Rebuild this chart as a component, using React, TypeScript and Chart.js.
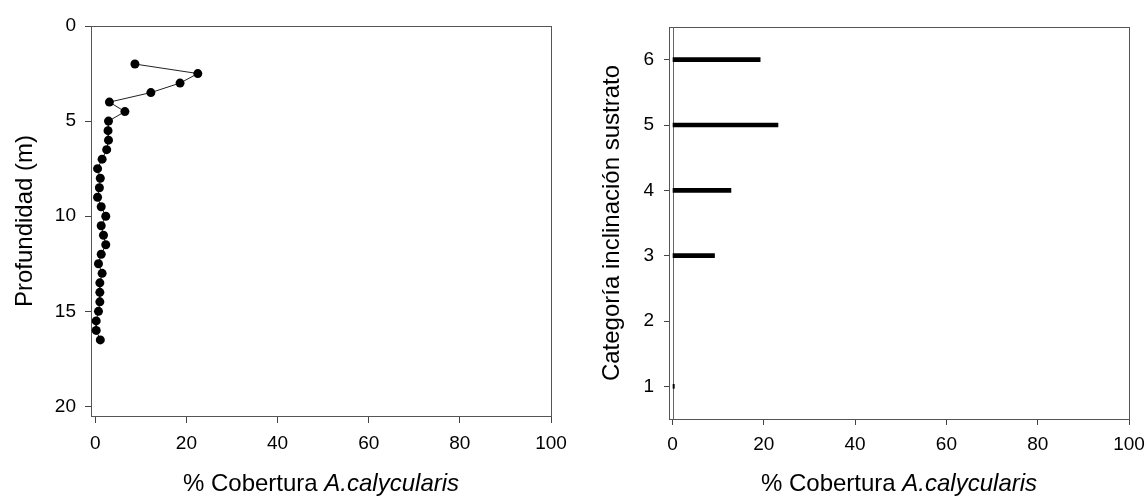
import React, { useEffect, useRef } from 'react';
import { Chart, registerables } from 'chart.js';

Chart.register(...registerables);

const FONT = '"Liberation Sans", Arial, sans-serif';

// Left panel: depth profile
const depths = [2, 2.5, 3, 3.5, 4, 4.5, 5, 5.5, 6, 6.5, 7, 7.5, 8, 8.5, 9, 9.5, 10, 10.5, 11, 11.5, 12, 12.5, 13, 13.5, 14, 14.5, 15, 15.5, 16, 16.5];
const depthCover = [8.7, 22.5, 18.6, 12.2, 3.1, 6.5, 2.9, 2.8, 2.9, 2.5, 1.5, 0.5, 1.1, 0.9, 0.5, 1.3, 2.3, 1.3, 1.8, 2.3, 1.3, 0.7, 1.5, 1.0, 1.0, 1.0, 0.7, 0.2, 0.2, 1.1];
const depthTicks = [0, 5, 10, 15, 20];

// Right panel: slope category
const slopeCategories = [1, 2, 3, 4, 5, 6];
const slopeCover = [0.4, 0, 9.2, 12.8, 23.1, 19.2];
const categoryTicks = [1, 2, 3, 4, 5, 6];

const coverTicks = [0, 20, 40, 60, 80, 100];

const xTitleNormal = '% Cobertura ';
const xTitleItalic = 'A.calycularis';
const leftYTitle = 'Profundidad (m)';
const rightYTitle = 'Categoría inclinación sustrato';

const framePlugin = {
  id: 'frame',
  beforeDatasetsDraw(chart: any, _args: any, opts: any) {
    const { ctx, chartArea: a } = chart;
    ctx.save();
    ctx.strokeStyle = '#555';
    ctx.lineWidth = 1;
    ctx.strokeRect(Math.round(a.left) + 0.5, Math.round(a.top) + 0.5, Math.round(a.right - a.left), Math.round(a.bottom - a.top));
    if (opts.zeroLine) {
      const x = Math.round(chart.scales.x.getPixelForValue(0)) + 0.5;
      ctx.strokeStyle = '#666';
      ctx.beginPath();
      ctx.moveTo(x, a.top);
      ctx.lineTo(x, a.bottom);
      ctx.stroke();
    }
    ctx.restore();
  },
  afterDraw(chart: any, _args: any, opts: any) {
    const { ctx, chartArea: a } = chart;
    ctx.save();
    ctx.fillStyle = '#000';
    ctx.textBaseline = 'middle';
    ctx.textAlign = 'left';
    ctx.font = `24px ${FONT}`;
    const w1 = ctx.measureText(xTitleNormal).width;
    ctx.font = `italic 24px ${FONT}`;
    const w2 = ctx.measureText(xTitleItalic).width;
    const cx = (a.left + a.right) / 2;
    const start = cx - (w1 + w2) / 2;
    ctx.font = `24px ${FONT}`;
    ctx.fillText(xTitleNormal, start, opts.titleY);
    ctx.font = `italic 24px ${FONT}`;
    ctx.fillText(xTitleItalic, start + w1, opts.titleY);
    ctx.restore();
  },
};

const fixX = (h: number) => (s: any) => {
  s.height = h;
  s.paddingLeft = 0;
  s.paddingRight = 0;
};
const fixY = (w: number) => (s: any) => {
  s.width = w;
  s.paddingTop = 0;
  s.paddingBottom = 0;
};

function LeftChart() {
  const ref = useRef<HTMLCanvasElement>(null);
  useEffect(() => {
    if (!ref.current) return;
    const chart = new Chart(ref.current, {
      type: 'scatter',
      data: {
        datasets: [
          {
            data: depths.map((d, i) => ({ x: depthCover[i], y: d })),
            showLine: true,
            borderColor: '#222',
            borderWidth: 1,
            pointRadius: 4.5,
            pointBackgroundColor: '#000',
            pointBorderColor: '#000',
            pointBorderWidth: 0,
          },
        ],
      },
      plugins: [framePlugin],
      options: {
        animation: false,
        responsive: false,
        events: [],
        layout: { padding: { top: 26, right: 29, left: 0, bottom: 0 } },
        plugins: {
          legend: { display: false },
          tooltip: { enabled: false },
          frame: { titleY: 484, zeroLine: false },
        } as any,
        scales: {
          x: {
            type: 'linear',
            min: -0.94,
            max: 100,
            afterBuildTicks: (s: any) => {
              s.ticks = coverTicks.map((v) => ({ value: v }));
            },
            afterFit: fixX(82),
            ticks: { color: '#000', font: { family: FONT, size: 19 }, padding: 9, maxRotation: 0 },
            grid: { drawOnChartArea: false, drawTicks: true, tickLength: 7, color: '#444' },
            border: { display: false },
          },
          y: {
            type: 'linear',
            reverse: true,
            min: 0,
            max: 20.5,
            afterBuildTicks: (s: any) => {
              s.ticks = depthTicks.map((v) => ({ value: v }));
            },
            afterFit: fixY(91),
            ticks: { color: '#000', font: { family: FONT, size: 19 }, padding: 9 },
            grid: { drawOnChartArea: false, drawTicks: true, tickLength: 6, color: '#444' },
            border: { display: false },
            title: {
              display: true,
              text: leftYTitle,
              color: '#000',
              font: { family: FONT, size: 24 },
              padding: { top: 11, bottom: 0 },
            },
          },
        },
      } as any,
    });
    return () => chart.destroy();
  }, []);
  return <canvas ref={ref} width={580} height={498} style={{ position: 'absolute', left: 0, top: 0 }} />;
}

function RightChart() {
  const ref = useRef<HTMLCanvasElement>(null);
  useEffect(() => {
    if (!ref.current) return;
    const chart = new Chart(ref.current, {
      type: 'bar',
      data: {
        datasets: [
          {
            data: slopeCategories.map((c, i) => ({ x: slopeCover[i] === 0 ? null : slopeCover[i], y: c })),
            backgroundColor: '#000',
            borderWidth: 0,
            barThickness: 4,
          },
        ],
      },
      plugins: [framePlugin],
      options: {
        animation: false,
        responsive: false,
        events: [],
        indexAxis: 'y',
        layout: { padding: { top: 27, right: 18, left: 0, bottom: 0 } },
        plugins: {
          legend: { display: false },
          tooltip: { enabled: false },
          frame: { titleY: 484, zeroLine: true },
        } as any,
        scales: {
          x: {
            type: 'linear',
            min: -0.77,
            max: 100,
            afterBuildTicks: (s: any) => {
              s.ticks = coverTicks.map((v) => ({ value: v }));
            },
            afterFit: fixX(79),
            ticks: { color: '#000', font: { family: FONT, size: 19 }, padding: 8, maxRotation: 0 },
            grid: { drawOnChartArea: false, drawTicks: true, tickLength: 6, color: '#444' },
            border: { display: false },
          },
          y: {
            type: 'linear',
            offset: false,
            min: 0.5,
            max: 6.5,
            afterBuildTicks: (s: any) => {
              s.ticks = categoryTicks.map((v) => ({ value: v }));
            },
            afterFit: fixY(89),
            ticks: { color: '#000', font: { family: FONT, size: 19 }, padding: 10 },
            grid: { offset: false, drawOnChartArea: false, drawTicks: true, tickLength: 5, color: '#444' },
            border: { display: false },
            title: {
              display: true,
              text: rightYTitle,
              color: '#000',
              font: { family: FONT, size: 24 },
              padding: { top: 18, bottom: 0 },
            },
          },
        },
      } as any,
    });
    return () => chart.destroy();
  }, []);
  return <canvas ref={ref} width={567} height={498} style={{ position: 'absolute', left: 580, top: 0 }} />;
}

export default function App() {
  return (
    <div style={{ position: 'absolute', left: 0, top: 0, width: 1147, height: 498, background: '#fff' }}>
      <LeftChart />
      <RightChart />
    </div>
  );
}
